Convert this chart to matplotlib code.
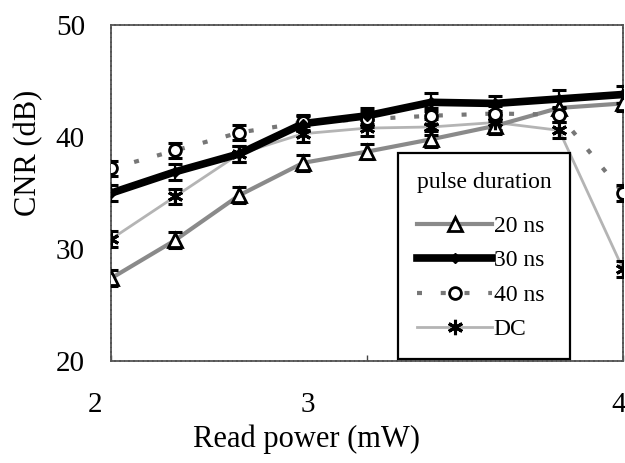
import matplotlib
matplotlib.use("Agg")
import matplotlib.pyplot as plt
import matplotlib.transforms as mtransforms
from matplotlib.lines import Line2D

plt.rcParams['font.family'] = ['Liberation Serif', 'DejaVu Serif']

read_power = [2.0, 2.25, 2.5, 2.75, 3.0, 3.25, 3.5, 3.75, 4.0]
cnr_20ns = [27.4, 30.8, 34.8, 37.7, 38.7, 39.8, 41.0, 42.6, 43.0]
cnr_30ns = [35.0, 36.9, 38.5, 41.2, 41.9, 43.1, 43.0, 43.4, 43.8]
cnr_40ns = [37.2, 38.8, 40.4, 41.3, 41.6, 41.9, 42.1, 42.0, 35.0]
cnr_dc = [30.9, 34.7, 38.5, 40.3, 40.8, 40.9, 41.3, 40.6, 28.2]
err_20ns = [0.7, 0.7, 0.7, 0.7, 0.7, 0.7, 0.7, 0.7, 0.7]
err_30ns = [0.7, 0.7, 0.7, 0.7, 0.7, 0.8, 0.7, 0.8, 0.8]
err_40ns = [0.7, 0.7, 0.7, 0.7, 0.7, 0.7, 0.7, 0.7, 0.7]
err_dc = [0.7, 0.7, 0.7, 0.7, 0.7, 0.7, 0.7, 0.7, 0.7]
x_ticks = [2, 3, 4]
y_ticks = [20, 30, 40, 50]
legend_title = "pulse duration"
labels = ["20 ns", "30 ns", "40 ns", "DC"]

fig = plt.figure(figsize=(6.25, 4.63), dpi=100)
ax = fig.add_axes([0.178, 0.220, 0.819, 0.726])

# lines
ax.plot(read_power, cnr_dc, color='#b4b4b4', lw=2.0, zorder=2)
ax.plot(read_power, cnr_20ns, color='#8a8a8a', lw=3.0, zorder=2)
ax.plot(read_power, cnr_40ns, color='#777777', lw=3.0, ls=(0, (1.2, 4.5)), zorder=2)
ax.plot(read_power, cnr_30ns, color='black', lw=5.5, zorder=3)

ebkw = dict(fmt='none', ecolor='black', elinewidth=1.6, capsize=4.8, capthick=2.2, zorder=4)
ax.errorbar(read_power, cnr_20ns, yerr=err_20ns, **ebkw)
ax.errorbar(read_power, cnr_30ns, yerr=err_30ns, **ebkw)
ax.errorbar(read_power, cnr_40ns, yerr=err_40ns, **ebkw)
ax.errorbar(read_power, cnr_dc, yerr=err_dc, **ebkw)

ax.plot(read_power, cnr_20ns, ls='none', marker='^', ms=10, mfc='white', mec='black', mew=2.0, zorder=5)
ax.plot(read_power, cnr_dc, ls='none', marker=(6, 2, 0), ms=11, mec='black', mew=2.2, zorder=5)
ax.plot(read_power, cnr_40ns, ls='none', marker='o', ms=8.5, mfc='white', mec='black', mew=2.0, zorder=5)
ax.plot(read_power, cnr_30ns, ls='none', marker='D', ms=5, mfc='black', mec='black', zorder=6)

ax.set_xlim(2, 4)
ax.set_ylim(20, 50)
ax.set_xticks(x_ticks)
ax.set_xticklabels([str(t) for t in x_ticks])
ax.set_yticks(y_ticks)
ax.set_yticklabels([str(t) for t in y_ticks])
ax.tick_params(axis='both', labelsize=21, length=0)
ax.tick_params(axis='y', pad=19)
ax.tick_params(axis='x', pad=22)
# small inner tick mark at x=3 as in the scan
ax.tick_params(axis='x', direction='in', length=4, width=1, color='#444444')

# offsets replicating the misaligned tick labels of the scanned original
shifts = [-16, -59, -4]
for lab, s in zip(ax.get_xticklabels(), shifts):
    lab.set_transform(lab.get_transform() + mtransforms.ScaledTranslation(s / 100, 0, fig.dpi_scale_trans))

ax.set_xlabel("Read power (mW)", fontsize=22)
ax.xaxis.set_label_coords(0.381, -0.188)
ax.set_ylabel("CNR (dB)", fontsize=22)
ax.yaxis.set_label_coords(-0.132, 0.62)

for sp in ax.spines.values():
    sp.set_color('#555555')
    sp.set_linewidth(1.3)
    sp.set_linestyle((0, (2, 0.6)))

handles = [
    Line2D([], [], color='#8a8a8a', lw=3.0, marker='^', ms=10, mfc='white', mec='black', mew=2.0),
    Line2D([], [], color='black', lw=5.5, marker='D', ms=5, mfc='black', mec='black'),
    Line2D([], [], color='#777777', lw=3.0, ls=(0, (1.2, 4.5)), marker='o', ms=8.5, mfc='white', mec='black', mew=2.0),
    Line2D([], [], color='#b4b4b4', lw=2.0, marker=(6, 2, 0), ms=11, mec='black', mew=2.2),
]
fs = 17
lspace = 0.55
leg = ax.legend(handles, labels, title=legend_title, loc='upper left',
                bbox_to_anchor=(0.56, 0.62), fontsize=fs, title_fontsize=fs,
                frameon=True, fancybox=False, edgecolor='black', framealpha=1,
                handlelength=3.2, handletextpad=0.05, labelspacing=lspace,
                borderpad=0.8, borderaxespad=0)
leg.get_frame().set_linewidth(1.6)
leg._legend_box.align = "left"
leg._legend_box.sep = lspace * fs + 7
leg.set_zorder(10)

fig.savefig("out.png", dpi=100)
